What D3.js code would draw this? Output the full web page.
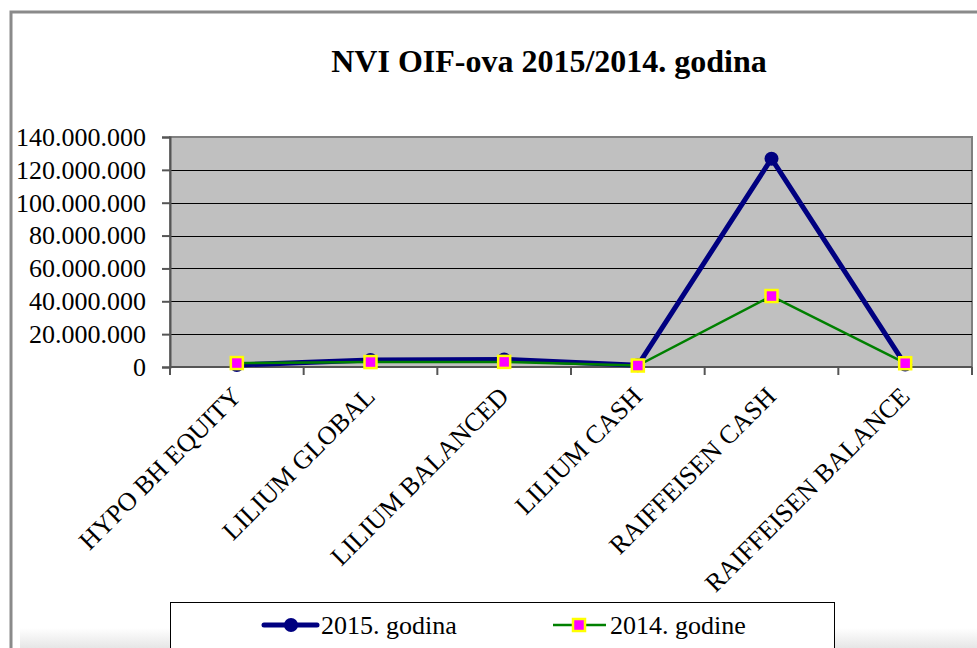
<!DOCTYPE html>
<html>
<head>
<meta charset="utf-8">
<script src="https://cdn.jsdelivr.net/npm/d3@7"></script>
<style>
  body { margin: 0; background: #fff; }
  svg { display: block; font-family: "Liberation Serif", "Times New Roman", serif; }
</style>
</head>
<body>
<div id="chart"></div>
<script>
// chart data
const categories = ["HYPO BH EQUITY", "LILIUM GLOBAL", "LILIUM BALANCED", "LILIUM CASH", "RAIFFEISEN CASH", "RAIFFEISEN BALANCE"];
const values2015 = [1200000, 4300000, 4600000, 1000000, 126800000, 1500000];
const values2014 = [2400000, 3000000, 3100000, 900000, 43200000, 2300000];
const yTicks = [0, 20000000, 40000000, 60000000, 80000000, 100000000, 120000000, 140000000];
const seriesNames = ["2015. godina", "2014. godine"];

let totalWidth = 977,
    totalHeight = 648;

let plot = { left: 170, right: 972, top: 137, bottom: 367 };

let svg = d3.select("#chart").append("svg")
    .attr("width", totalWidth)
    .attr("height", totalHeight);

// soft shadow at bottom of the frame
let defs = svg.append("defs");
let grad = defs.append("linearGradient").attr("id", "shade").attr("x1", 0).attr("y1", 0).attr("x2", 0).attr("y2", 1);
grad.append("stop").attr("offset", "0%").attr("stop-color", "#fff");
grad.append("stop").attr("offset", "100%").attr("stop-color", "#e6e6e6");
svg.append("rect")
    .attr("x", 20).attr("y", 628).attr("width", 957).attr("height", 20)
    .attr("fill", "url(#shade)");

// outer frame
svg.append("path")
    .attr("d", "M11,648 V12 H977")
    .attr("fill", "none")
    .attr("stroke", "#8a8a8a")
    .attr("stroke-width", 3);

// title
svg.append("text")
    .attr("x", 549)
    .attr("y", 72)
    .attr("text-anchor", "middle")
    .attr("font-size", 32)
    .attr("font-weight", "bold")
    .text("NVI OIF-ova 2015/2014. godina");

let xScale = d3.scaleBand().domain(categories).range([plot.left, plot.right]).padding(0);
let yScale = d3.scaleLinear().domain([0, 140000000]).range([plot.bottom, plot.top]);
let xPos = d => xScale(d) + xScale.bandwidth() / 2;

// plot area
svg.append("rect")
    .attr("x", plot.left).attr("y", plot.top)
    .attr("width", plot.right - plot.left).attr("height", plot.bottom - plot.top)
    .attr("fill", "#c0c0c0")
    .attr("stroke", "#808080")
    .attr("stroke-width", 2);

// gridlines
svg.append("g").selectAll("line")
    .data(yTicks.slice(1, -1))
    .join("line")
    .attr("x1", plot.left).attr("x2", plot.right)
    .attr("y1", d => Math.round(yScale(d)) + 0.5)
    .attr("y2", d => Math.round(yScale(d)) + 0.5)
    .attr("stroke", "#000")
    .attr("stroke-width", 1.2);

// y axis
let fmt = d => d3.format(",")(d).replace(/,/g, ".");
let yAxis = d3.axisLeft(yScale).tickValues(yTicks).tickFormat(fmt).tickSize(8).tickPadding(16);
let gy = svg.append("g").attr("transform", "translate(" + plot.left + ",0)").call(yAxis);
gy.select(".domain").attr("stroke", "#555").attr("stroke-width", 2);
gy.selectAll(".tick line").attr("stroke", "#555").attr("stroke-width", 2);
gy.selectAll("text").attr("font-size", 26).attr("fill", "#000")
    .attr("font-family", "Liberation Serif, Times New Roman, serif");

// x axis
let gx = svg.append("g").attr("transform", "translate(0," + plot.bottom + ")");
gx.append("line")
    .attr("x1", plot.left).attr("x2", plot.right)
    .attr("stroke", "#555").attr("stroke-width", 2);
gx.selectAll(".xt")
    .data(categories.concat([null]))
    .join("line")
    .attr("class", "xt")
    .attr("x1", (d, i) => i < categories.length ? xScale(d) : plot.right)
    .attr("x2", (d, i) => i < categories.length ? xScale(d) : plot.right)
    .attr("y1", 0).attr("y2", 8)
    .attr("stroke", "#555").attr("stroke-width", 2);
gx.selectAll(".xl")
    .data(categories)
    .join("text")
    .attr("class", "xl")
    .attr("font-size", 26)
    .attr("text-anchor", "end")
    .attr("transform", d => "translate(" + (xPos(d) + 6) + ",31) rotate(-45)")
    .text(d => d);

// 2015 series
let lineGen = d3.line().x((d, i) => xPos(categories[i])).y(d => yScale(d));
svg.append("path")
    .datum(values2015)
    .attr("d", lineGen)
    .attr("fill", "none")
    .attr("stroke", "#000080")
    .attr("stroke-width", 5)
    .attr("stroke-linejoin", "round");
svg.append("g").selectAll("circle")
    .data(values2015)
    .join("circle")
    .attr("cx", (d, i) => xPos(categories[i]))
    .attr("cy", d => yScale(d))
    .attr("r", 7)
    .attr("fill", "#000080");

// 2014 series
svg.append("path")
    .datum(values2014)
    .attr("d", lineGen)
    .attr("fill", "none")
    .attr("stroke", "#008000")
    .attr("stroke-width", 2.5);
svg.append("g").selectAll("rect")
    .data(values2014)
    .join("rect")
    .attr("x", (d, i) => xPos(categories[i]) - 6)
    .attr("y", d => yScale(d) - 6)
    .attr("width", 12).attr("height", 12)
    .attr("fill", "#ff00ff")
    .attr("stroke", "#ffff00")
    .attr("stroke-width", 2.5);

// legend
let lg = svg.append("g");
lg.append("rect")
    .attr("x", 170.5).attr("y", 602.5)
    .attr("width", 664).attr("height", 60)
    .attr("fill", "#fff").attr("stroke", "#000").attr("stroke-width", 1);

let items = [
    { name: seriesNames[0], x: 264 },
    { name: seriesNames[1], x: 553 }
];
lg.append("line").attr("x1", items[0].x).attr("x2", items[0].x + 53)
    .attr("y1", 625).attr("y2", 625)
    .attr("stroke", "#000080").attr("stroke-width", 5).attr("stroke-linecap", "round");
lg.append("circle").attr("cx", items[0].x + 27).attr("cy", 625).attr("r", 7).attr("fill", "#000080");
lg.append("line").attr("x1", items[1].x).attr("x2", items[1].x + 53)
    .attr("y1", 625).attr("y2", 625)
    .attr("stroke", "#008000").attr("stroke-width", 2.5);
lg.append("rect").attr("x", items[1].x + 20).attr("y", 619).attr("width", 12).attr("height", 12)
    .attr("fill", "#ff00ff").attr("stroke", "#ffff00").attr("stroke-width", 2.5);
lg.selectAll(".lt")
    .data(items)
    .join("text")
    .attr("class", "lt")
    .attr("x", d => d.x + 57)
    .attr("y", 634)
    .attr("font-size", 26)
    .text(d => d.name);
</script>
</body>
</html>
